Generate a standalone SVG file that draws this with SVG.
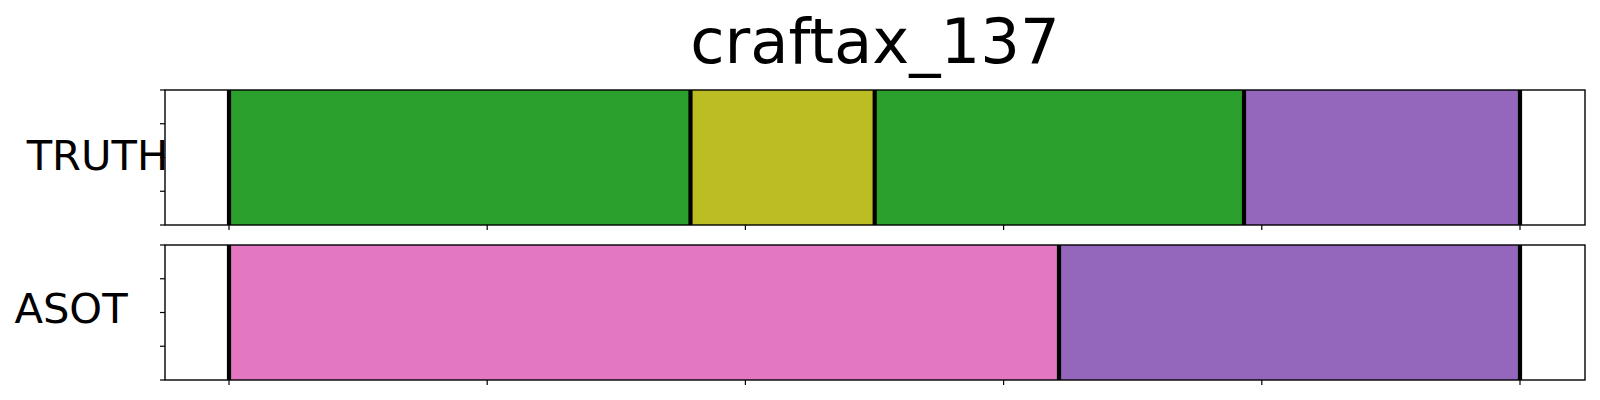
<svg xmlns="http://www.w3.org/2000/svg" width="1600" height="400" viewBox="0 0 1600 400">
<style>
.lbl{font-family:"DejaVu Sans","Liberation Sans",sans-serif;fill:#000}
.spine{fill:none;stroke:#000;stroke-width:1.4}
.tick{stroke:#000;stroke-width:1.2}
.bound{stroke:#000;stroke-width:4.2}
.green{fill:#2ca02c}
.olive{fill:#bcbd22}
.purple{fill:#9467bd}
.pink{fill:#e377c2}
</style>
<rect width="1600" height="400" fill="#fff"/>
<text class="lbl" x="875" y="63" font-size="62.5" text-anchor="middle">craftax_137</text>

<g id="truth">
<rect x="165" y="90" width="1420" height="135" fill="#fff"/>
<rect class="green" x="229" y="90" width="461.5" height="135"/>
<rect class="olive" x="690.5" y="90" width="184.2" height="135"/>
<rect class="green" x="874.7" y="90" width="369.3" height="135"/>
<rect class="purple" x="1244" y="90" width="276" height="135"/>
<g id="truth-bounds">
<line class="bound" x1="229" y1="90" x2="229" y2="225"/>
<line class="bound" x1="690.5" y1="90" x2="690.5" y2="225"/>
<line class="bound" x1="874.7" y1="90" x2="874.7" y2="225"/>
<line class="bound" x1="1244" y1="90" x2="1244" y2="225"/>
<line class="bound" x1="1520" y1="90" x2="1520" y2="225"/>
</g>
<rect class="spine" x="165" y="90" width="1420" height="135"/>
<g id="truth-ticks">
<line class="tick" x1="160" y1="90" x2="165" y2="90"/>
<line class="tick" x1="160" y1="123.75" x2="165" y2="123.75"/>
<line class="tick" x1="160" y1="157.5" x2="165" y2="157.5"/>
<line class="tick" x1="160" y1="191.25" x2="165" y2="191.25"/>
<line class="tick" x1="160" y1="225" x2="165" y2="225"/>
<line class="tick" x1="229" y1="225" x2="229" y2="230"/>
<line class="tick" x1="487.2" y1="225" x2="487.2" y2="230"/>
<line class="tick" x1="745.4" y1="225" x2="745.4" y2="230"/>
<line class="tick" x1="1003.6" y1="225" x2="1003.6" y2="230"/>
<line class="tick" x1="1261.8" y1="225" x2="1261.8" y2="230"/>
<line class="tick" x1="1520" y1="225" x2="1520" y2="230"/>
</g>
<text class="lbl" x="97.5" y="169.5" font-size="41.67" text-anchor="middle">TRUTH</text>
</g>

<g id="asot">
<rect x="165" y="245" width="1420" height="135" fill="#fff"/>
<rect class="pink" x="229" y="245" width="830" height="135"/>
<rect class="purple" x="1059" y="245" width="461" height="135"/>
<g id="asot-bounds">
<line class="bound" x1="229" y1="245" x2="229" y2="380"/>
<line class="bound" x1="1059" y1="245" x2="1059" y2="380"/>
<line class="bound" x1="1520" y1="245" x2="1520" y2="380"/>
</g>
<rect class="spine" x="165" y="245" width="1420" height="135"/>
<g id="asot-ticks">
<line class="tick" x1="160" y1="245" x2="165" y2="245"/>
<line class="tick" x1="160" y1="278.75" x2="165" y2="278.75"/>
<line class="tick" x1="160" y1="312.5" x2="165" y2="312.5"/>
<line class="tick" x1="160" y1="346.25" x2="165" y2="346.25"/>
<line class="tick" x1="160" y1="380" x2="165" y2="380"/>
<line class="tick" x1="229" y1="380" x2="229" y2="385"/>
<line class="tick" x1="487.2" y1="380" x2="487.2" y2="385"/>
<line class="tick" x1="745.4" y1="380" x2="745.4" y2="385"/>
<line class="tick" x1="1003.6" y1="380" x2="1003.6" y2="385"/>
<line class="tick" x1="1261.8" y1="380" x2="1261.8" y2="385"/>
<line class="tick" x1="1520" y1="380" x2="1520" y2="385"/>
</g>
<text class="lbl" x="71" y="322.7" font-size="41.67" text-anchor="middle">ASOT</text>
</g>
<g id="connectors"></g>
</svg>
